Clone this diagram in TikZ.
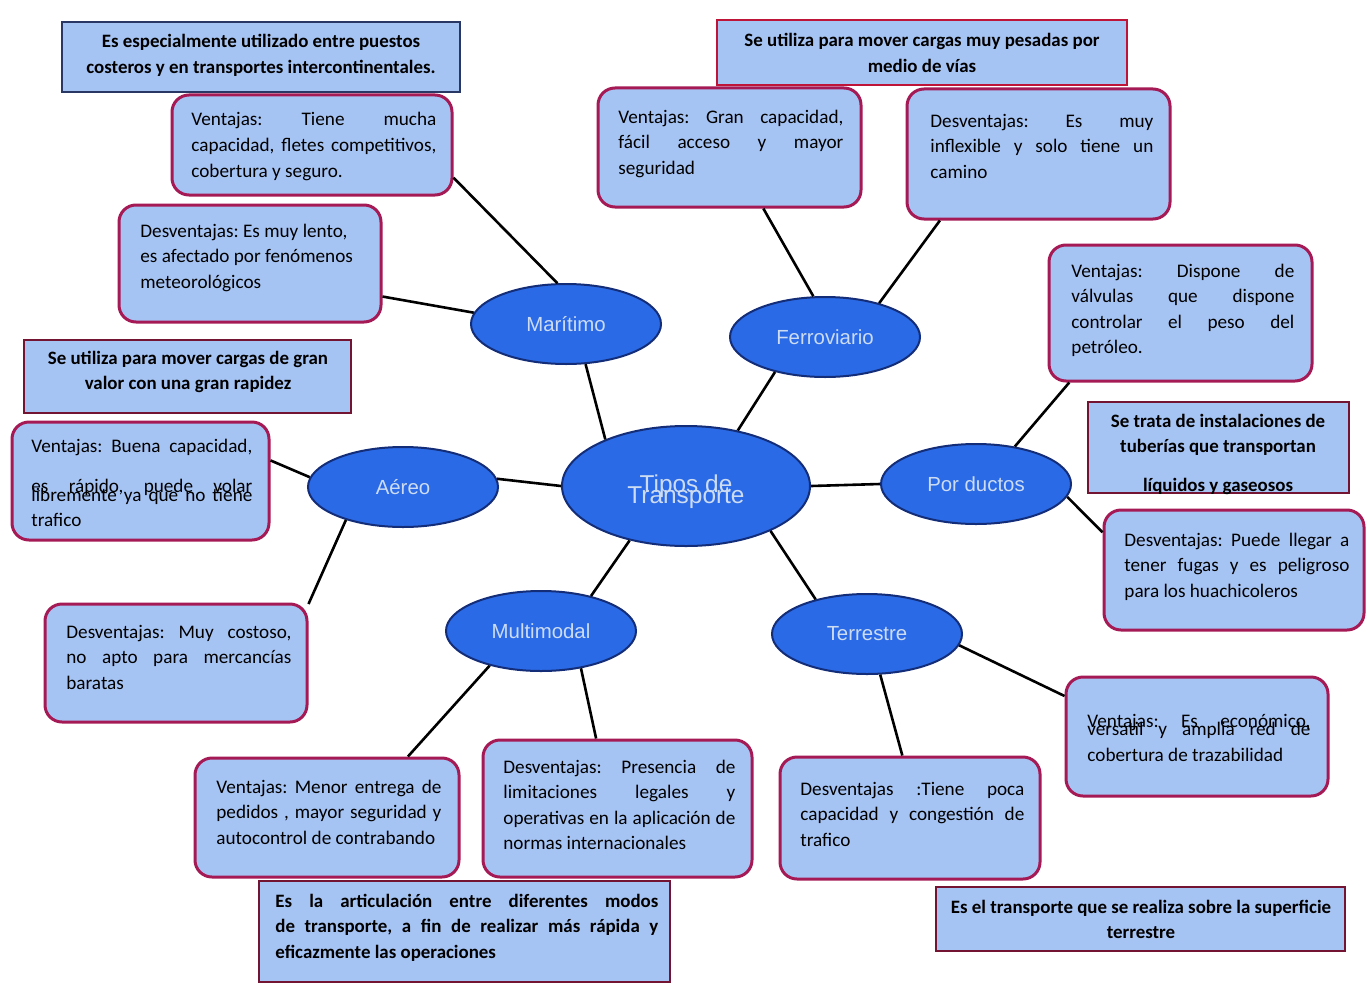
\documentclass[tikz,border=0pt]{standalone}
\usepackage{fontspec}
\setmainfont{Carlito}
\newfontfamily\arialf{Liberation Sans}
\usetikzlibrary{shapes.geometric}
\definecolor{boxfill}{RGB}{166,196,243}
\definecolor{rborder}{RGB}{165,25,85}
\definecolor{sborder}{RGB}{115,20,50}
\definecolor{sborderb}{RGB}{40,55,100}
\definecolor{sborderr}{RGB}{190,20,55}
\definecolor{ellfill}{RGB}{42,106,230}
\definecolor{ellborder}{RGB}{20,45,120}
\definecolor{labelc}{RGB}{205,220,242}
\newcommand\rs{\spaceskip=0pt\xspaceskip=0pt\frenchspacing}
\newcommand\jl[1]{{\rs\makebox[\hsize][s]{#1}}}
\tikzset{
  rbox/.style={draw=rborder, line width=1.5pt, fill=boxfill, rounded corners=8.5pt, inner sep=0pt},
  sbox/.style={draw=sborder, line width=1.3pt, fill=boxfill, inner sep=0pt},
  sat/.style={ellipse, draw=ellborder, line width=1pt, fill=ellfill, minimum width=95pt, minimum height=40pt, inner sep=0pt, font=\fontsize{10.2}{12}\arialf, text=labelc},
  txt/.style={font=\fontsize{9.6}{12.75}\selectfont, text=black, inner sep=0pt, align=flush left, anchor=base west},
  stxt/.style={font=\fontsize{9.45}{12.75}\selectfont\bfseries, text=black, inner sep=0pt, align=flush center, anchor=base},
  link/.style={line width=1.3pt, black},
}
\begin{document}
\begin{tikzpicture}[x=0.5pt,y=-0.5pt]
\useasboundingbox (0,0) rectangle (1368,995);
\fill[white] (0,0) rectangle (1368,995);

% sharp note boxes
\node[sbox, draw=sborderb, minimum width=199pt, minimum height=35pt] (S1) at (261,57) {};
\node[sbox, draw=sborderr, minimum width=205pt, minimum height=32.5pt] (S2) at (922,52.5) {};
\node[sbox, minimum width=163.5pt, minimum height=36.5pt] (S3) at (187.5,376.5) {};
\node[sbox, minimum width=130.5pt, minimum height=45.5pt] (S4) at (1218.5,447.5) {};
\node[sbox, minimum width=205.5pt, minimum height=50.5pt] (S5) at (464.5,931.5) {};
\node[sbox, minimum width=204.5pt, minimum height=32pt] (S6) at (1140.5,919) {};

% rounded boxes
\node[rbox, minimum width=140pt, minimum height=50pt] (MV) at (312,145) {};
\node[rbox, minimum width=131pt, minimum height=58.5pt] (MD) at (250,263.5) {};
\node[rbox, minimum width=131.5pt, minimum height=59.5pt] (FV) at (729.5,147.5) {};
\node[rbox, minimum width=131.5pt, minimum height=65pt] (FD) at (1038.5,154) {};
\node[rbox, minimum width=131.5pt, minimum height=68pt] (PV) at (1180.5,313) {};
\node[rbox, minimum width=130pt, minimum height=60pt] (PD) at (1234,570) {};
\node[rbox, minimum width=128.5pt, minimum height=59pt] (AV) at (140.5,481) {};
\node[rbox, minimum width=131pt, minimum height=59pt] (AD) at (176,663) {};
\node[rbox, minimum width=132pt, minimum height=59.5pt] (MuV) at (327,817.5) {};
\node[rbox, minimum width=134.5pt, minimum height=68.5pt] (MuD) at (617.5,808.5) {};
\node[rbox, minimum width=130pt, minimum height=61pt] (TD) at (910,818) {};
\node[rbox, minimum width=131pt, minimum height=59.5pt] (TV) at (1197,736.5) {};

% ellipses
\node[sat, minimum width=124pt, minimum height=60pt] (C) at (686,486) {};
\node[sat] (M) at (566,324) {Marítimo};
\node[sat] (F) at (825,337) {Ferroviario};
\node[sat] (P) at (976,484) {Por ductos};
\node[sat] (A) at (403,487) {Aéreo};
\node[sat] (Mu) at (541,631) {Multimodal};
\node[sat] (T) at (867,634) {Terrestre};
\node[font=\fontsize{12.2}{14}\arialf, text=labelc, anchor=base, inner sep=0pt] (Ct1) at (686,492) {Tipos de};
\node[font=\fontsize{12.2}{14}\arialf, text=labelc, anchor=base, inner sep=0pt] (Ct2) at (686,503) {Transporte};

% connectors
\draw[link] (C.150) -- (M.296);
\draw[link] (M.102) -- (MV.347);
\draw[link] (M.173) -- (MD.346);
\draw[link] (C.47) -- (F.215);
\draw[link] (F.106) -- (FV.299);
\draw[link] (F.32) -- (FD.214);
\draw[link] (C.0) -- (P.180);
\draw[link] (P.44) -- (PV.212);
\draw[link] (P.-8) -- (PD.164);
\draw[link] (C.180) -- (A.5);
\draw[link] (A.174) -- (AV.9);
\draw[link] (A.210) -- (AD.24);
\draw[link] (C.224) -- (Mu.35);
\draw[link] (Mu.214) -- (MuV.37);
\draw[link] (Mu.317) -- (MuD.107);
\draw[link] (C.332) -- (T.146);
\draw[link] (T.288) -- (TD.97);
\draw[link] (T.353) -- (TV.163);

% sharp box texts
\node[stxt, text width=197pt] (S1t) at (261,48) {\rs Es especialmente utilizado entre puestos\\ \rs costeros y en transportes intercontinentales.};
\node[stxt, text width=202pt] (S2t) at (922,47) {\rs Se utiliza para mover cargas muy pesadas por\\ \rs medio de vías};
\node[stxt, text width=160pt] (S3t) at (188,364) {\rs Se utiliza para mover cargas de gran\\ \rs valor con una gran rapidez};
\node[stxt, text width=128pt] (S4t) at (1218,427) {\rs Se trata de instalaciones de\\[-0.25pt] \rs tuberías que transportan\\[6.75pt] \rs líquidos y gaseosos};
\node[txt, font=\fontsize{9.45}{12.75}\selectfont\bfseries, text width=191.5pt] (S5t) at (275,907) {\jl{Es la articulación entre diferentes modos}\\ \jl{de transporte, a fin de realizar más rápida y}\\ \rs eficazmente las operaciones};
\node[stxt, text width=202pt] (S6t) at (1141,913) {\rs Es el transporte que se realiza sobre la superficie\\ terrestre};

% rounded box texts
\node[txt, text width=122.5pt] (MVt) at (191,126) {\jl{Ventajas: Tiene mucha}\\ \jl{capacidad, fletes competitivos,}\\ \rs cobertura y seguro.};
\node[txt, text width=118pt] (MDt) at (140,237) {\rs Desventajas: Es muy lento,\\ \rs es afectado por fenómenos\\ meteorológicos};
\node[txt, text width=112.5pt] (FVt) at (618,123) {\jl{Ventajas: Gran capacidad,}\\ \jl{fácil acceso y mayor}\\ seguridad};
\node[txt, text width=111.5pt] (FDt) at (930,127) {\jl{Desventajas: Es muy}\\ \jl{inflexible y solo tiene un}\\ camino};
\node[txt, text width=111.5pt] (PVt) at (1071,277) {\jl{Ventajas: Dispone de}\\ \jl{válvulas que dispone}\\ \jl{controlar el peso del}\\ petróleo.};
\node[txt, text width=112.5pt] (PDt) at (1124,546) {\jl{Desventajas: Puede llegar a}\\ \jl{tener fugas y es peligroso}\\ \rs para los huachicoleros};
\node[txt, text width=110.5pt] (AVt) at (31,452) {\jl{Ventajas: Buena capacidad,}\\[7.25pt] \jl{es rápido, puede volar}\\[-8.25pt] \jl{libremente ya que no tiene}\\[-0.25pt] trafico};
\node[txt, text width=112.5pt] (ADt) at (66,638) {\jl{Desventajas: Muy costoso,}\\ \jl{no apto para mercancías}\\ baratas};
\node[txt, text width=112.5pt] (MuVt) at (216,793) {\jl{Ventajas: Menor entrega de}\\ \jl{pedidos , mayor seguridad y}\\ \rs autocontrol de contrabando};
\node[txt, text width=116pt] (MuDt) at (503,773) {\jl{Desventajas: Presencia de}\\ \jl{limitaciones legales y}\\ \jl{operativas en la aplicación de}\\ \rs normas internacionales};
\node[txt, text width=112pt] (TDt) at (800,795) {\jl{Desventajas :Tiene poca}\\ \jl{capacidad y congestión de}\\ trafico};
\node[txt, text width=111.5pt] (TVt) at (1087,727) {\jl{Ventajas: Es económico,}\\[-8.75pt] \jl{versatil y amplia red de}\\[0.25pt] \rs cobertura de trazabilidad};
\end{tikzpicture}
\end{document}
